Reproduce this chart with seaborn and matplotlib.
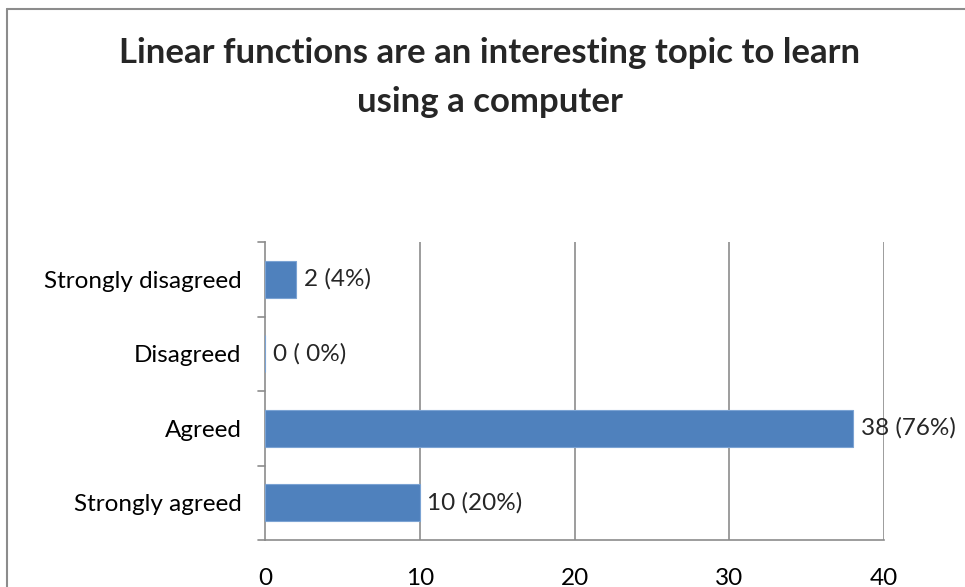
import matplotlib
matplotlib.use("Agg")
import matplotlib.pyplot as plt
import seaborn as sns
import pandas as pd
from matplotlib.lines import Line2D

# Survey answers
categories = ["Strongly disagreed", "Disagreed", "Agreed", "Strongly agreed"]
counts = [2, 0, 38, 10]
labels = ["2 (4%)", "0 ( 0%)", "38 (76%)", "10 (20%)"]
x_ticks = [0, 10, 20, 30, 40]

df = pd.DataFrame({"answer": categories, "count": counts})

sns.set_theme(style="white")
plt.rcParams["font.family"] = ["Lato", "DejaVu Sans"]

fig = plt.figure(figsize=(9.65, 5.87), dpi=100)
ax = fig.add_axes([265 / 965, 1 - 540 / 587, (884 - 265) / 965, (540 - 242) / 587])

sns.barplot(data=df, y="answer", x="count", orient="h", color="#4F81BD",
            saturation=1, width=0.49, edgecolor="#7BA3D3", linewidth=0.8,
            ax=ax, zorder=3)

ax.set_xlim(0, 40)
ax.set_ylim(3.5, -0.5)
ax.set_xticks(x_ticks)
ax.set_xticklabels([str(t) for t in x_ticks], fontsize=17.5)
ax.set_yticks(range(len(categories)))
ax.set_yticklabels(categories, fontsize=17.5)
ax.set_xlabel("")
ax.set_ylabel("")

# vertical gridlines
for t in x_ticks[1:]:
    ax.axvline(t, color="#8C8C8C", lw=1.2, zorder=1)

for s in ["top", "right"]:
    ax.spines[s].set_visible(False)
for s in ["left", "bottom"]:
    ax.spines[s].set_color("#8C8C8C")
    ax.spines[s].set_linewidth(1.2)

# tick marks: x at values, y at category boundaries
ax.tick_params(axis="x", length=8, width=1.2, color="#8C8C8C", direction="out",
               pad=12, labelcolor="black")
ax.tick_params(axis="y", length=0, pad=17, labelcolor="black")
for b in [-0.5, 0.5, 1.5, 2.5, 3.5]:
    ax.plot([-0.45, 0], [b, b], color="#8C8C8C", lw=1.2, clip_on=False, zorder=4)

# data labels
for i, (v, lab) in enumerate(zip(counts, labels)):
    ax.text(v + 0.5, i, lab, va="center", ha="left", fontsize=17.5, zorder=5)

fig.suptitle("Linear functions are an interesting topic to learn\nusing a computer",
             x=490 / 965, y=1 - 37 / 587, fontsize=25, fontweight="bold",
             linespacing=1.65, va="top")

# chart border (left and top only visible)
fig.add_artist(Line2D([7 / 965, 7 / 965], [0, 1 - 9 / 587], color="#8C8C8C", lw=1.5))
fig.add_artist(Line2D([7 / 965, 1], [1 - 9 / 587, 1 - 9 / 587], color="#8C8C8C", lw=1.5))

fig.savefig("out.png", dpi=100)
